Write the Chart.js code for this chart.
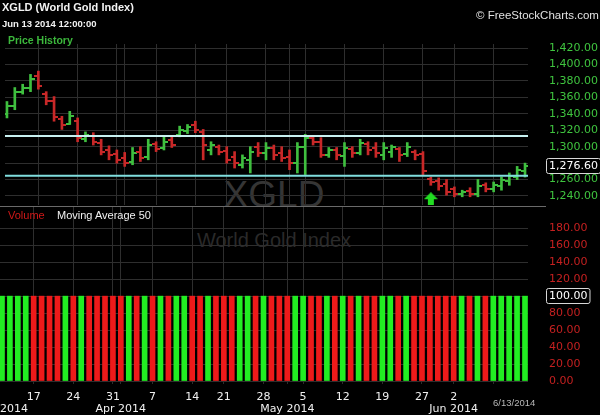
<!DOCTYPE html>
<html>
<head>
<meta charset="utf-8">
<script src="https://cdn.jsdelivr.net/npm/chart.js@4.4.1/dist/chart.umd.min.js"></script>
<style>
    html, body { margin: 0; padding: 0; background: #000; width: 600px; height: 415px; overflow: hidden; }
    canvas { position: absolute; left: 0; top: 0; }
    .txt { position: absolute; white-space: nowrap; font-family: "Liberation Sans", Arial, sans-serif; line-height: 1; }
</style>
</head>
<body>
<!-- 水印 -->
<div class="txt" style="left:0;width:548px;text-align:center;top:176px;font-size:37px;color:#353535;">XGLD</div>
<div class="txt" style="left:0;width:548px;text-align:center;top:230px;font-size:20px;color:#2a2a2a;">World Gold Index</div>

<canvas id="priceChart" width="600" height="415"></canvas>
<canvas id="volumeChart" width="600" height="415"></canvas>

<!-- 标题 -->
<div class="txt" style="left:2px;top:2px;font-size:11px;font-weight:bold;color:#f2f2f2;">XGLD (World Gold Index)</div>
<div class="txt" style="left:2px;top:19px;font-size:9.5px;font-weight:bold;color:#f2f2f2;">Jun 13 2014 12:00:00</div>
<div class="txt" style="left:8px;top:35px;font-size:10.5px;font-weight:bold;color:#3cb83c;">Price History</div>
<div class="txt" style="left:476px;top:10px;font-size:11.5px;color:#e0e0e0;">© FreeStockCharts.com</div>
<div style="position:absolute;left:0;top:206px;width:546px;height:1px;background:#6a6a6a;"></div>
<div class="txt" style="left:8px;top:210px;font-size:11px;color:#d01818;">Volume</div>
<div class="txt" style="left:57px;top:210px;font-size:11px;color:#f0f0f0;">Moving Average 50</div>
<div class="txt" style="left:493px;top:398px;font-size:9.5px;color:#b8b8b8;">6/13/2014</div>

<script>
// 交易日 (x 轴按序号)
const dates = [
    '3/11', '3/12', '3/13', '3/14',
    '3/17', '3/18', '3/19', '3/20', '3/21',
    '3/24', '3/25', '3/26', '3/27', '3/28',
    '3/31', '4/1', '4/2', '4/3', '4/4',
    '4/7', '4/8', '4/9', '4/10', '4/11',
    '4/14', '4/15', '4/16', '4/17',
    '4/21', '4/22', '4/23', '4/24', '4/25',
    '4/28', '4/29', '4/30', '5/1', '5/2',
    '5/5', '5/6', '5/7', '5/8', '5/9',
    '5/12', '5/13', '5/14', '5/15', '5/16',
    '5/19', '5/20', '5/21', '5/22', '5/23',
    '5/27', '5/28', '5/29', '5/30',
    '6/2', '6/3', '6/4', '6/5', '6/6',
    '6/9', '6/10', '6/11', '6/12', '6/13'
];

const highs = [1355, 1372, 1376, 1388, 1392, 1367, 1361, 1337, 1343, 1335, 1318, 1317, 1309, 1301, 1296, 1293, 1299,
    1300, 1309, 1306, 1312, 1312, 1325, 1327, 1331, 1321, 1306, 1302, 1300, 1294, 1290, 1300, 1305, 1305, 1302,
    1300, 1296, 1305, 1315, 1312, 1311, 1299, 1299, 1305, 1300, 1309, 1306, 1305, 1305, 1302, 1299, 1305, 1296,
    1294, 1263, 1262, 1260, 1251, 1247, 1250, 1260, 1256, 1257, 1263, 1268, 1276, 1280];
const lows = [1335, 1345, 1364, 1367, 1370, 1351, 1331, 1321, 1327, 1306, 1306, 1302, 1290, 1284, 1280, 1276, 1278,
    1282, 1284, 1294, 1296, 1299, 1312, 1316, 1317, 1284, 1290, 1290, 1280, 1274, 1274, 1268, 1288, 1284, 1284,
    1282, 1272, 1268, 1266, 1302, 1287, 1287, 1284, 1276, 1287, 1290, 1290, 1287, 1284, 1287, 1282, 1288, 1284,
    1266, 1253, 1247, 1241, 1239, 1239, 1239, 1239, 1245, 1245, 1247, 1253, 1260, 1263];
const opens = [1340, 1350, 1366, 1372, 1386, 1364, 1356, 1334, 1328, 1331, 1309, 1313, 1305, 1296, 1291, 1286, 1281,
    1294, 1287, 1303, 1298, 1308, 1314, 1319, 1327, 1318, 1296, 1300, 1295, 1288, 1278, 1284, 1300, 1292, 1298,
    1292, 1287, 1280, 1300, 1310, 1306, 1290, 1296, 1289, 1297, 1292, 1303, 1298, 1290, 1294, 1297, 1291, 1294,
    1291, 1261, 1258, 1255, 1248, 1242, 1246, 1243, 1253, 1248, 1252, 1258, 1263, 1270];
const closes = [1350, 1366, 1372, 1382, 1374, 1356, 1336, 1326, 1337, 1310, 1314, 1306, 1294, 1290, 1284, 1280, 1292,
    1286, 1302, 1297, 1306, 1302, 1320, 1324, 1320, 1302, 1302, 1294, 1284, 1280, 1286, 1294, 1292, 1298, 1290,
    1286, 1280, 1300, 1310, 1306, 1290, 1296, 1290, 1298, 1292, 1304, 1296, 1292, 1298, 1300, 1290, 1300, 1290,
    1270, 1257, 1252, 1245, 1243, 1245, 1242, 1252, 1249, 1253, 1259, 1264, 1272, 1276.6];
// 1 = 上涨 (绿), 0 = 下跌 (红)
const upDays = [1, 1, 1, 1, 0, 0, 0, 0, 1, 0, 1, 0, 0, 0, 0, 0, 1, 0, 1, 0, 1, 0, 1, 1, 0, 0, 1, 0, 0, 0, 1, 1, 0, 1,
    0, 0, 0, 1, 1, 0, 0, 1, 0, 1, 0, 1, 0, 0, 1, 1, 0, 1, 0, 0, 0, 0, 0, 0, 1, 0, 1, 0, 1, 1, 1, 1, 1];
const volumes = [100, 100, 100, 100, 100, 100, 100, 100, 100, 100, 100, 100, 100, 100, 100, 100, 100, 100, 100, 100,
    100, 100, 100, 100, 100, 100, 100, 100, 100, 100, 100, 100, 100, 100, 100, 100, 100, 100, 100, 100, 100, 100,
    100, 100, 100, 100, 100, 100, 100, 100, 100, 100, 100, 100, 100, 100, 100, 100, 100, 100, 100, 100, 100, 100,
    100, 100, 100];

// 支撑 / 阻力线
const resistanceLevel = 1313;
const supportLevel = 1264.5;
// 信号箭头
const signalDates = ['5/28'];
const signalPrices = [1236];

const priceTicks = [1240, 1260, 1280, 1300, 1320, 1340, 1360, 1380, 1400, 1420];
const volumeTicks = [0, 20, 40, 60, 80, 100, 120, 140, 160, 180];

// x 轴刻度: 周一 + 月初
const tickDates = ['3/11', '3/17', '3/24', '3/31', '4/1', '4/7', '4/14', '4/21', '4/28', '5/1', '5/5', '5/12',
    '5/19', '5/27', '6/2', '6/9'];
const tickLabels = [['', 'Mar 2014'], '17', '24', '31', ['', 'Apr 2014'], '7', '14', '21', '28', ['', 'May 2014'],
    '5', '12', '19', '27', ['2', 'Jun 2014'], ''];

const X_MIN = -0.25;
const X_MAX = 66.38;
const AXIS_W = 72;
const FONT = 'DejaVu Sans';

const idxOf = d => dates.indexOf(d);
const tickIdx = tickDates.map(idxOf);

function fmtPrice(v) {
    return v.toLocaleString('en-US', { minimumFractionDigits: 2, maximumFractionDigits: 2 });
}

function tickCanvas(color, side) {
    const c = document.createElement('canvas');
    c.width = 8;
    c.height = 2;
    const g = c.getContext('2d');
    g.fillStyle = color;
    g.fillRect(side === 'left' ? 0 : 4, 0, 4, 2);
    return c;
}

function arrowCanvas() {
    const c = document.createElement('canvas');
    c.width = 14;
    c.height = 14;
    const g = c.getContext('2d');
    g.fillStyle = '#22dd22';
    g.beginPath();
    g.moveTo(7, 0);
    g.lineTo(14, 7);
    g.lineTo(0, 7);
    g.closePath();
    g.fill();
    g.fillRect(4, 7, 6, 7);
    return c;
}

const PRICE_UP = '#3fbf3f';
const PRICE_DOWN = '#c82828';
const VOL_UP = '#22ee22';
const VOL_DOWN = '#ee1a1a';

const openUp = tickCanvas(PRICE_UP, 'left');
const openDown = tickCanvas(PRICE_DOWN, 'left');
const closeUp = tickCanvas(PRICE_UP, 'right');
const closeDown = tickCanvas(PRICE_DOWN, 'right');

// 右侧当前值方框
const lastValueBox = {
    id: 'lastValueBox',
    afterDraw(chart, args, opts) {
        if (opts.value === undefined) return;
        const ctx = chart.ctx;
        const y = Math.round(chart.scales.y.getPixelForValue(opts.value));
        const x = chart.chartArea.right + 21;
        ctx.save();
        ctx.font = '11px "' + FONT + '"';
        const w = ctx.measureText(opts.text).width + 5;
        ctx.fillStyle = '#000';
        ctx.strokeStyle = '#d8d8d8';
        ctx.lineWidth = 1;
        ctx.beginPath();
        ctx.roundRect(x - 2.5, y - 7.5, w, 15, 2);
        ctx.fill();
        ctx.stroke();
        ctx.fillStyle = '#fff';
        ctx.textBaseline = 'middle';
        ctx.fillText(opts.text, x, y + 0.5);
        ctx.restore();
    }
};

function xScale(showLabels) {
    return {
        type: 'linear',
        offset: false,
        min: X_MIN,
        max: X_MAX,
        afterBuildTicks: s => { s.ticks = tickIdx.map(v => ({ value: v })); },
        afterFit: s => {
            s.paddingLeft = 0;
            s.paddingRight = 0;
            s.height = showLabels ? 31 : 0;
        },
        grid: {
            offset: false,
            color: c => (c.tick && c.tick.value === 0 ? 'rgba(0,0,0,0)' : '#2e2e2e'),
            drawTicks: false
        },
        border: { display: false },
        ticks: {
            display: showLabels,
            autoSkip: false,
            maxRotation: 0,
            padding: 7,
            color: '#f0f0f0',
            font: { family: FONT, size: 11, lineHeight: 1.1 },
            callback: (v, i) => tickLabels[i]
        }
    };
}

function yScale(min, max, ticks, color, fmt) {
    return {
        position: 'right',
        min: min,
        max: max,
        afterBuildTicks: s => { s.ticks = ticks.map(v => ({ value: v })); },
        afterFit: s => { s.width = AXIS_W; },
        grid: { color: '#2e2e2e', drawTicks: false },
        border: { display: false },
        ticks: {
            padding: 21,
            color: color,
            font: { family: FONT, size: 11 },
            callback: v => fmt(v)
        }
    };
}

const commonOptions = {
    responsive: false,
    animation: false,
    events: [],
    plugins: { legend: { display: false }, tooltip: { enabled: false } }
};

// 价格图 (OHLC)
new Chart(document.getElementById('priceChart'), {
    data: {
        datasets: [
            {
                type: 'line',
                data: [{ x: X_MIN, y: resistanceLevel }, { x: X_MAX, y: resistanceLevel }],
                borderColor: '#c8f0f0',
                borderWidth: 2,
                pointRadius: 0
            },
            {
                type: 'line',
                data: [{ x: X_MIN, y: supportLevel }, { x: X_MAX, y: supportLevel }],
                borderColor: '#80dede',
                borderWidth: 2,
                pointRadius: 0
            },
            {
                type: 'bar',
                data: dates.map((d, i) => ({ x: i, y: [lows[i], highs[i]] })),
                backgroundColor: upDays.map(u => (u ? PRICE_UP : PRICE_DOWN)),
                barThickness: 2,
                grouped: false
            },
            {
                type: 'scatter',
                data: dates.map((d, i) => ({ x: i, y: opens[i] })),
                pointStyle: c => (upDays[c.dataIndex] ? openUp : openDown)
            },
            {
                type: 'scatter',
                data: dates.map((d, i) => ({ x: i, y: closes[i] })),
                pointStyle: c => (upDays[c.dataIndex] ? closeUp : closeDown)
            },
            {
                type: 'scatter',
                data: signalDates.map((d, i) => ({ x: idxOf(d), y: signalPrices[i] })),
                pointStyle: arrowCanvas()
            }
        ]
    },
    options: {
        ...commonOptions,
        layout: { padding: { top: 44, bottom: 210, left: 0, right: 0 } },
        scales: {
            x: xScale(false),
            y: yScale(1229, 1425, priceTicks, '#3fc43f', fmtPrice)
        },
        plugins: {
            ...commonOptions.plugins,
            lastValueBox: { value: closes[closes.length - 1], text: fmtPrice(closes[closes.length - 1]) }
        }
    },
    plugins: [lastValueBox]
});

// 成交量图
new Chart(document.getElementById('volumeChart'), {
    data: {
        datasets: [{
            type: 'bar',
            data: dates.map((d, i) => ({ x: i, y: volumes[i] })),
            backgroundColor: upDays.map(u => (u ? VOL_UP : VOL_DOWN)),
            barThickness: 5
        }]
    },
    options: {
        ...commonOptions,
        layout: { padding: { top: 207, bottom: 0, left: 0, right: 0 } },
        scales: {
            x: xScale(true),
            y: yScale(-3.5, 205, volumeTicks, '#c42020', v => v.toFixed(2))
        },
        plugins: {
            ...commonOptions.plugins,
            lastValueBox: { value: volumes[volumes.length - 1], text: volumes[volumes.length - 1].toFixed(2) }
        }
    },
    plugins: [lastValueBox]
});
</script>
</body>
</html>
